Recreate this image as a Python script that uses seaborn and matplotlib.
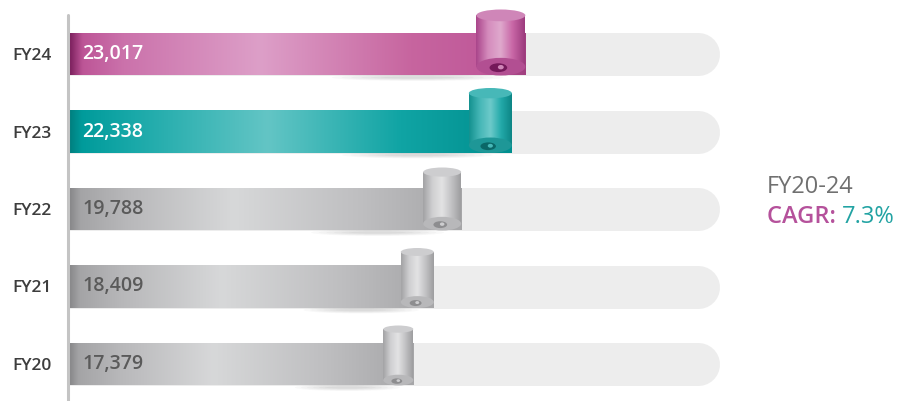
import matplotlib
matplotlib.use("Agg")
import matplotlib.pyplot as plt
import seaborn as sns
import numpy as np
import pandas as pd
from matplotlib.colors import LinearSegmentedColormap
from matplotlib.patches import Ellipse, Rectangle

# data
years = ["FY24", "FY23", "FY22", "FY21", "FY20"]
revenue = [23017, 22338, 19788, 18409, 17379]
value_labels = ["23,017", "22,338", "19,788", "18,409", "17,379"]
period_label = "FY20-24"
cagr_label = "7.3%"

sns.set_style("white")
plt.rcParams["font.family"] = ["Open Sans", "DejaVu Sans"]

W, H = 922, 401
fig = plt.figure(figsize=(W / 100, H / 100), dpi=100)
x0_px, x1_px = 68, 730
ax = fig.add_axes([x0_px / W, 0, (x1_px - x0_px) / W, 1])

K = 50.33          # value units per pixel
ROW = 77.5         # pixels per row
def px_x(p):
    return p * K
def px_y(p):
    return p / ROW

df = pd.DataFrame({"year": years, "revenue": revenue})
track_end = 32750

# background tracks (round caps)
for i in range(len(years)):
    ax.plot([0, track_end - px_x(21)], [i, i], color="#ededed",
            lw=43 * 0.72, solid_capstyle="round", zorder=0)

bar_h = 43 / ROW
sns.barplot(data=df, x="revenue", y="year", orient="h", width=bar_h,
            color="white", edgecolor="none", ax=ax, zorder=2)

bar_maps = [
    LinearSegmentedColormap.from_list("pk", [(0, "#761b58"), (0.03, "#bd5597"), (0.12, "#cb72ab"),
                                             (0.42, "#dd9fc8"), (0.75, "#c7659f"), (0.9, "#c05a9a"),
                                             (1, "#a14080")]),
    LinearSegmentedColormap.from_list("tl", [(0, "#007d7d"), (0.03, "#009b9b"), (0.15, "#1aa9a9"),
                                             (0.45, "#63c5c5"), (0.75, "#10a4a4"), (1, "#008f8f")]),
]
gray_map = LinearSegmentedColormap.from_list("gr", [(0, "#848486"), (0.03, "#a4a4a6"), (0.15, "#b8b8ba"),
                                                     (0.42, "#d7d8d9"), (0.75, "#bebec0"), (1, "#a6a6a8")])
scroll_cols = [
    dict(body=["#a9448a", "#d58cbd", "#dfa9cd", "#c866a6", "#9c3b7d"], top="#cf86b8", bot="#b24f92", inner="#74195a"),
    dict(body=["#13918f", "#45b6b6", "#6dcaca", "#22a9a9", "#0d8585"], top="#47b8b8", bot="#1e9797", inner="#0a6767"),
]
gray_scroll = dict(body=["#a2a2a4", "#cfcfd1", "#e3e3e4", "#c2c2c4", "#9d9d9f"], top="#cdcdcf", bot="#b8b8ba", inner="#8d8d8f")

grad = np.linspace(0, 1, 256).reshape(1, -1)
for i, patch in enumerate(ax.patches):
    x, y = patch.get_x(), patch.get_y()
    w, h = patch.get_width(), patch.get_height()
    cmap = bar_maps[i] if i < 2 else gray_map
    patch.set_facecolor("none")
    im = ax.imshow(grad, cmap=cmap, extent=[x, x + w, y + h, y], aspect="auto",
                   zorder=2, interpolation="bicubic")
    im.set_clip_path(patch)

    # scroll roll at the end of the bar
    sc = scroll_cols[i] if i < 2 else gray_scroll
    sw_px = [49, 43, 38, 33, 30][i]
    above_px = [23, 22, 20, 17, 17][i]
    sw = px_x(sw_px)
    sx0 = x + w - sw
    top_e = px_y(sw_px * 0.24)
    bot_e = px_y(sw_px * 0.36)
    ytop = y - px_y(above_px)
    ybot = y + h
    cyl_top = ytop + top_e / 2
    cyl_bot = ybot - bot_e / 2
    body = Rectangle((sx0, cyl_top), sw, cyl_bot - cyl_top, facecolor="none", edgecolor="none", zorder=3)
    ax.add_patch(body)
    cm2 = LinearSegmentedColormap.from_list("sc%d" % i, sc["body"])
    im2 = ax.imshow(grad, cmap=cm2, extent=[sx0, sx0 + sw, cyl_bot, cyl_top], aspect="auto",
                    zorder=3, interpolation="bicubic")
    im2.set_clip_path(body)
    ax.add_patch(Ellipse((sx0 + sw / 2, cyl_top), sw, top_e, facecolor=sc["top"], edgecolor="none", zorder=4))
    ax.add_patch(Ellipse((sx0 + sw / 2, cyl_bot), sw, bot_e, facecolor=sc["bot"], edgecolor="none", zorder=4))
    ax.add_patch(Ellipse((sx0 + sw * 0.45, cyl_bot + px_y(1)), sw * 0.36, bot_e * 0.5,
                         facecolor=sc["inner"], edgecolor="none", zorder=5))
    ax.add_patch(Ellipse((sx0 + sw * 0.5, cyl_bot + px_y(0.5)), sw * 0.12, bot_e * 0.25,
                         facecolor=sc["top"], edgecolor="none", zorder=6))

    # soft shadow below the bar near the roll
    for k in range(6):
        ax.add_patch(Ellipse((x + w - sw * 2.2, ybot + px_y(2)), sw * 3.5 - k * sw * 0.4, px_y(7 - k),
                             facecolor="#000000", alpha=0.025, edgecolor="none", zorder=1))

    txt_col = "white" if i < 2 else "#5a5a5a"
    ax.text(px_x(14), i, value_labels[i], color=txt_col, fontsize=14, fontweight="semibold",
            va="center", ha="left", zorder=7)

ax.set_xlim(0, px_x(x1_px - x0_px))
ax.set_ylim(4 + px_y(401 - 364), -px_y(54))
ax.set_xlabel("")
ax.set_ylabel("")
ax.set_xticks([])
ax.tick_params(axis="y", length=0, pad=12)
for lab in ax.get_yticklabels():
    lab.set_fontsize(12.5)
    lab.set_fontweight("semibold")
    lab.set_color("#3d3d3d")
sns.despine(ax=ax, left=True, bottom=True)

# left axis line
ax.plot([0, 0], [-px_y(54 - 15), 4 + px_y(401 - 364)], color="#c4c4c4", lw=2.2,
        zorder=8, clip_on=False)

# CAGR annotation
fig.text(767 / W, 1 - 193 / H, period_label, color="#707070", fontsize=17, ha="left",
         va="baseline")
t1 = fig.text(767 / W, 1 - 223 / H, "CAGR: ", color="#b5519b", fontsize=17,
              fontweight="semibold", ha="left", va="baseline")
fig.canvas.draw()
bb = t1.get_window_extent()
fig.text(bb.x1 / W, 1 - 223 / H, cagr_label, color="#22a3a3", fontsize=17,
         ha="left", va="baseline")

fig.savefig("out.png", dpi=100)
